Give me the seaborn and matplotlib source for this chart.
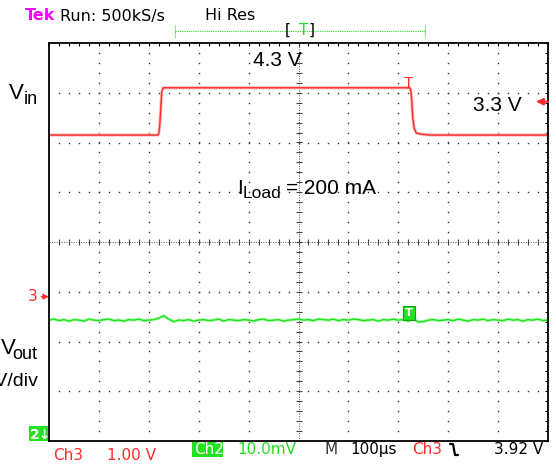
import numpy as np
import matplotlib
matplotlib.use('Agg')
import matplotlib.pyplot as plt
from matplotlib.patches import Rectangle
from matplotlib.ticker import MultipleLocator
import seaborn as sns

# scope settings
time_per_div_us = 100
ch3_volts_per_div = 1.0
ch2_mv_per_div = 10.0
ch3_ground_div = 2.9      # Ch3 ground marker, divisions above the bottom edge
trig_level_v = 3.92
trig_time_us = 721

# Ch3 = Vin
vin_time_us = [0, 218, 220, 222, 224, 226, 229, 723, 725, 727, 729, 732, 736, 745, 762, 1000]
vin_volts = [3.25, 3.25, 3.28, 3.45, 3.8, 4.12, 4.2, 4.2, 4.15, 3.95, 3.6, 3.38, 3.29, 3.27, 3.25, 3.25]

# Ch2 = Vout ripple (mV), one reading every 10 us
vout_level_div = 2.43
vout_ripple_mv = [0.0, 0.2, -0.1, 0.1, -0.2, 0.1, 0.0, -0.2, 0.2, 0.0,
                  -0.1, 0.1, 0.2, -0.1, 0.0, -0.2, 0.1, 0.0, 0.2, -0.1,
                  0.0, 0.1, 0.4, 0.9, 0.2, -0.3, 0.0, -0.1, 0.1, -0.2,
                  0.0, 0.1, -0.1, 0.0, 0.2, -0.2, 0.1, 0.0, -0.1, 0.1,
                  0.0, -0.2, 0.1, 0.2, -0.1, 0.0, 0.1, -0.2, 0.0, 0.1,
                  0.2, 0.0, 0.1, -0.1, 0.2, 0.1, 0.0, 0.2, -0.1, 0.1,
                  0.0, 0.2, 0.1, -0.1, 0.0, 0.1, -0.2, 0.1, 0.0, 0.2,
                  0.0, 0.1, -0.2, 0.3, -0.4, -0.3, 0.0, 0.1, -0.1, 0.0,
                  0.1, -0.1, 0.2, 0.0, -0.2, 0.1, 0.0, 0.2, -0.1, 0.1,
                  0.0, -0.1, 0.2, 0.0, 0.1, -0.2, 0.1, 0.0, 0.2, -0.1, 0.0]

RED = '#ff2a2a'
GREEN = '#22e022'

sns.set_style('white')
plt.rcParams['font.family'] = ['DejaVu Sans']
plt.rcParams['text.color'] = 'black'

fig = plt.figure(figsize=(5.56, 4.69), dpi=100)
W, H = 556, 469
ax = fig.add_axes([49 / W, 28 / H, 499 / W, 398 / H])
ax.set_xlim(0, 10 * time_per_div_us)
ax.set_ylim(0, 8)

# graticule: dotted division lines, dashed centre cross
xmax = 10 * time_per_div_us
ydots = np.arange(0.2, 8, 0.2)
xdots = np.arange(20, xmax, 20)
for k in range(1, 10):
    if k != 5:
        ax.plot(np.full(len(ydots), k * time_per_div_us), ydots, ls='none',
                marker='s', ms=1.0, mew=0, color='#333333')
for k in range(1, 8):
    if k != 4:
        ax.plot(xdots, np.full(len(xdots), k), ls='none',
                marker='s', ms=1.0, mew=0, color='#333333')
ax.axvline(xmax / 2, ls=(0, (1, 1.5)), lw=0.7, color='#555555')
ax.axhline(4, ls=(0, (1, 1.5)), lw=0.7, color='#555555')
ax.plot(np.full(len(ydots), xmax / 2), ydots, ls='none', marker='_', ms=4.5, mew=0.8, color='#444444')
ax.plot(xdots, np.full(len(xdots), 4), ls='none', marker='|', ms=4.5, mew=0.8, color='#444444')

ax.xaxis.set_major_locator(MultipleLocator(20))
ax.yaxis.set_major_locator(MultipleLocator(0.2))
ax.tick_params(direction='in', length=2, width=0.8, top=True, right=True,
               labelbottom=False, labelleft=False, color='black')
for s in ax.spines.values():
    s.set_color('black')
    s.set_linewidth(1.3)

# traces
vin_div = ch3_ground_div + np.array(vin_volts) / ch3_volts_per_div
vout_time = np.arange(len(vout_ripple_mv)) * 10
vout_div = vout_level_div + np.array(vout_ripple_mv) / ch2_mv_per_div

sns.lineplot(x=vin_time_us, y=vin_div, ax=ax, color='#ffb4b4', linewidth=2.2, estimator=None)
sns.lineplot(x=vin_time_us, y=vin_div, ax=ax, color=RED, linewidth=1.0, estimator=None)
sns.lineplot(x=vout_time, y=vout_div, ax=ax, color='#a8ffa8', linewidth=2.2, estimator=None)
sns.lineplot(x=vout_time, y=vout_div, ax=ax, color=GREEN, linewidth=1.0, estimator=None)

# trigger position markers on the traces
ax.text(trig_time_us, vin_div.max() + 0.02, 'T', color=RED, ha='center', va='baseline',
        fontsize=11, family='Liberation Sans')
ax.text(trig_time_us, vout_level_div + 0.14, 'T', color='white', ha='center', va='center',
        fontsize=8, fontweight='bold',
        bbox=dict(boxstyle='square,pad=0.2', fc=GREEN, ec='#10a010', lw=0.8))

# Ch3 ground marker and trigger level arrow
ax.annotate('3', xy=(0, ch3_ground_div), xytext=(-11, 0), textcoords='offset pixels',
            ha='right', va='center', color=RED, fontsize=11, annotation_clip=False,
            arrowprops=dict(arrowstyle='-|>', color=RED, lw=1, mutation_scale=8,
                            shrinkA=0, shrinkB=0, relpos=(1, 0.5)))
ax.annotate('', xy=(976, ch3_ground_div + trig_level_v), xytext=(xmax, ch3_ground_div + trig_level_v),
            annotation_clip=False,
            arrowprops=dict(arrowstyle='-|>', color=RED, lw=1.5, mutation_scale=10,
                            shrinkA=0, shrinkB=0))

# overlay in pixel coordinates for the screen text
ov = fig.add_axes([0, 0, 1, 1], facecolor='none')
ov.set_xlim(0, W)
ov.set_ylim(H, 0)
ov.axis('off')

ov.text(25, 20.5, 'Tek', color='#ff00ff', fontweight='bold', fontsize=11.5, va='baseline')
ov.text(60, 20.5, 'Run: 500kS/s', color='black', fontsize=11.5, va='baseline')
ov.text(205, 20.5, 'Hi Res', color='black', fontsize=11.5, va='baseline')

ov.plot([175, 425], [31.5, 31.5], color=GREEN, lw=0.8, ls=(0, (1, 1)))
ov.plot([175, 175], [25, 38], color=GREEN, lw=0.8, ls=(0, (1, 1)))
ov.plot([425, 425], [25, 38], color=GREEN, lw=0.8, ls=(0, (1, 1)))
ov.text(285, 35, '[', color='black', fontsize=11, va='baseline')
ov.text(299, 35, 'T', fontsize=11, va='baseline', color=GREEN)
ov.text(309, 35, ']', color='black', fontsize=11, va='baseline')

# annotation labels
lab = 'Liberation Sans'
ov.text(24, 99, 'V', family=lab, fontsize=16, ha='right', va='baseline', color='black')
ov.text(37.5, 104, 'in', family=lab, fontsize=13, ha='right', va='baseline', color='black')
ov.text(15.5, 354, 'V', family=lab, fontsize=16, ha='right', va='baseline', color='black')
ov.text(37.5, 359, 'out', family=lab, fontsize=13, ha='right', va='baseline', color='black')
ov.text(37.5, 386, '10 mV/div', family=lab, fontsize=14, ha='right', va='baseline', color='black')
ov.text(253, 66, '4.3 V', family=lab, fontsize=15, va='baseline', color='black')
ov.text(473, 111, '3.3 V', family=lab, fontsize=15, va='baseline', color='black')
ov.text(237, 194, 'I', family=lab, fontsize=15, va='baseline', color='black')
ov.text(243, 198, 'Load', family=lab, fontsize=12.5, va='baseline', color='black')
ov.text(286, 194, '= 200 mA', family=lab, fontsize=15, va='baseline', color='black')

# Ch2 ground marker box
ov.add_patch(Rectangle((29, 426), 19, 15, fc=GREEN, ec='none'))
ov.text(30, 439, '2\u2193', color='white', fontsize=10, fontweight='bold', va='baseline')

# bottom status line
ov.add_patch(Rectangle((192, 442), 31, 15, fc=GREEN, ec='none'))
ov.text(194, 454, 'Ch2', color='white', fontsize=11, va='baseline')
ov.text(237, 454, '10.0mV', color=GREEN, fontsize=11, va='baseline')
ov.text(325, 454, 'M', color='#333333', fontsize=11, va='baseline')
ov.text(350, 454, '100\u00b5s', color='black', fontsize=11, va='baseline')
ov.text(412, 454, 'Ch3', color=RED, fontsize=11, va='baseline')
ov.plot([450, 453, 455, 458], [444, 444, 455, 455], color='black', lw=1.6)
ov.text(494, 454, '3.92 V', color='black', fontsize=11, va='baseline')
ov.text(53, 460, 'Ch3', color=RED, fontsize=11, va='baseline')
ov.text(107, 460, '1.00 V', color=RED, fontsize=11, va='baseline')

fig.savefig('out.png', dpi=100)
